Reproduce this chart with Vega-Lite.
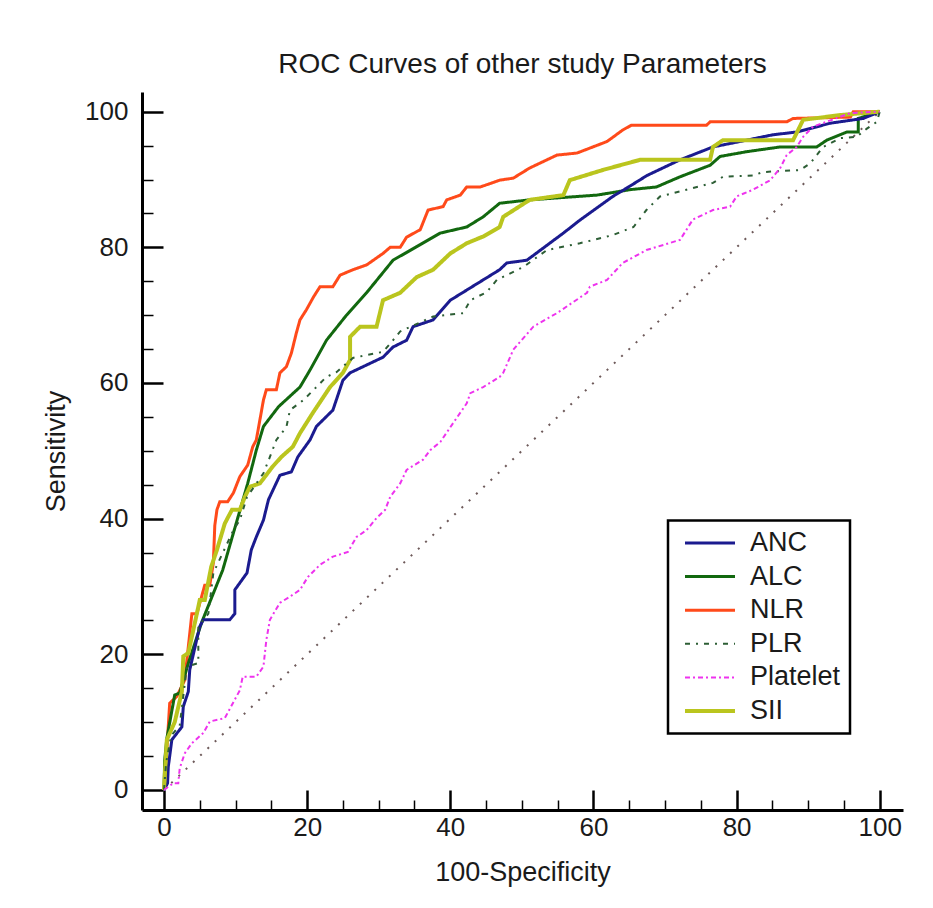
{
  "$schema": "https://vega.github.io/schema/vega-lite/v6.json",
  "width": 761,
  "height": 718,
  "autosize": "none",
  "padding": {"left": 142, "top": 92, "right": 30, "bottom": 98},
  "background": "white",
  "config": {
    "view": {"stroke": null},
    "font": "Liberation Sans",
    "legend": {"strokeWidth": 2.5}
  },
  "title": {
    "text": "ROC Curves of other study Parameters",
    "fontSize": 28,
    "fontWeight": "normal",
    "font": "Liberation Sans",
    "color": "#1a1a1a",
    "anchor": "middle",
    "baseline": "alphabetic",
    "offset": -9
  },
  "datasets": {
    "diag": [{"x": 0, "y": 0}, {"x": 100, "y": 100}],
    "roc": [
      {"s":"NLR","i":0,"x":0,"y":0},{"s":"NLR","i":1,"x":0.2,"y":2.5},{"s":"NLR","i":2,"x":0.8,"y":12.8},{"s":"NLR","i":3,"x":1.8,"y":13.8},{"s":"NLR","i":4,"x":2.9,"y":16.2},{"s":"NLR","i":5,"x":3.9,"y":26},{"s":"NLR","i":6,"x":4.6,"y":26},{"s":"NLR","i":7,"x":5.7,"y":30.2},{"s":"NLR","i":8,"x":6.4,"y":30.2},{"s":"NLR","i":9,"x":6.9,"y":33.5},{"s":"NLR","i":10,"x":7.1,"y":39},{"s":"NLR","i":11,"x":7.4,"y":41.3},{"s":"NLR","i":12,"x":7.8,"y":42.5},{"s":"NLR","i":13,"x":8.9,"y":42.5},{"s":"NLR","i":14,"x":9.7,"y":43.8},{"s":"NLR","i":15,"x":10.6,"y":46.2},{"s":"NLR","i":16,"x":11.7,"y":47.9},{"s":"NLR","i":17,"x":12.4,"y":50.6},{"s":"NLR","i":18,"x":12.9,"y":51.6},{"s":"NLR","i":19,"x":13.9,"y":57.5},{"s":"NLR","i":20,"x":14.3,"y":59},{"s":"NLR","i":21,"x":15.7,"y":59},{"s":"NLR","i":22,"x":16.2,"y":61.5},{"s":"NLR","i":23,"x":17.1,"y":62.4},{"s":"NLR","i":24,"x":17.8,"y":64.4},{"s":"NLR","i":25,"x":18.5,"y":67.4},{"s":"NLR","i":26,"x":19,"y":69.3},{"s":"NLR","i":27,"x":19.9,"y":70.8},{"s":"NLR","i":28,"x":20.9,"y":72.7},{"s":"NLR","i":29,"x":21.8,"y":74.2},{"s":"NLR","i":30,"x":23.6,"y":74.2},{"s":"NLR","i":31,"x":24.6,"y":75.9},{"s":"NLR","i":32,"x":26.4,"y":76.7},{"s":"NLR","i":33,"x":28.3,"y":77.4},{"s":"NLR","i":34,"x":30.6,"y":79.1},{"s":"NLR","i":35,"x":31.6,"y":80},{"s":"NLR","i":36,"x":33,"y":80},{"s":"NLR","i":37,"x":33.9,"y":81.5},{"s":"NLR","i":38,"x":35.8,"y":82.6},{"s":"NLR","i":39,"x":36.9,"y":85.5},{"s":"NLR","i":40,"x":39,"y":86},{"s":"NLR","i":41,"x":39.5,"y":87},{"s":"NLR","i":42,"x":41.4,"y":87.7},{"s":"NLR","i":43,"x":42.3,"y":88.9},{"s":"NLR","i":44,"x":44.2,"y":88.9},{"s":"NLR","i":45,"x":46.9,"y":89.9},{"s":"NLR","i":46,"x":48.8,"y":90.2},{"s":"NLR","i":47,"x":51.1,"y":91.7},{"s":"NLR","i":48,"x":54.9,"y":93.6},{"s":"NLR","i":49,"x":57.7,"y":93.9},{"s":"NLR","i":50,"x":61.9,"y":95.6},{"s":"NLR","i":51,"x":64.1,"y":97.3},{"s":"NLR","i":52,"x":65.3,"y":98},{"s":"NLR","i":53,"x":75.8,"y":98},{"s":"NLR","i":54,"x":76.3,"y":98.5},{"s":"NLR","i":55,"x":87,"y":98.5},{"s":"NLR","i":56,"x":87.9,"y":99},{"s":"NLR","i":57,"x":95.9,"y":99.2},{"s":"NLR","i":58,"x":96.3,"y":100},{"s":"NLR","i":59,"x":100,"y":100},
      {"s":"ALC","i":0,"x":0,"y":0},{"s":"ALC","i":1,"x":0.1,"y":4.4},{"s":"ALC","i":2,"x":0.4,"y":7.6},{"s":"ALC","i":3,"x":1.5,"y":14},{"s":"ALC","i":4,"x":2.2,"y":14.3},{"s":"ALC","i":5,"x":3.4,"y":18.7},{"s":"ALC","i":6,"x":5.3,"y":24.8},{"s":"ALC","i":7,"x":8.2,"y":32.4},{"s":"ALC","i":8,"x":11.7,"y":45.2},{"s":"ALC","i":9,"x":12.9,"y":50.1},{"s":"ALC","i":10,"x":13.9,"y":53.6},{"s":"ALC","i":11,"x":16,"y":56.5},{"s":"ALC","i":12,"x":19,"y":59.4},{"s":"ALC","i":13,"x":20.4,"y":61.9},{"s":"ALC","i":14,"x":22.7,"y":66.3},{"s":"ALC","i":15,"x":25.5,"y":70},{"s":"ALC","i":16,"x":28.3,"y":73.3},{"s":"ALC","i":17,"x":32,"y":78.1},{"s":"ALC","i":18,"x":35.3,"y":80.1},{"s":"ALC","i":19,"x":38.6,"y":82.1},{"s":"ALC","i":20,"x":42.3,"y":83},{"s":"ALC","i":21,"x":44.6,"y":84.5},{"s":"ALC","i":22,"x":46.9,"y":86.5},{"s":"ALC","i":23,"x":51.1,"y":87},{"s":"ALC","i":24,"x":60.5,"y":87.7},{"s":"ALC","i":25,"x":65.1,"y":88.5},{"s":"ALC","i":26,"x":68.8,"y":88.9},{"s":"ALC","i":27,"x":72.1,"y":90.4},{"s":"ALC","i":28,"x":76.3,"y":92.1},{"s":"ALC","i":29,"x":77.7,"y":93.4},{"s":"ALC","i":30,"x":81.4,"y":94.1},{"s":"ALC","i":31,"x":86.1,"y":94.8},{"s":"ALC","i":32,"x":91.2,"y":94.8},{"s":"ALC","i":33,"x":92.6,"y":95.8},{"s":"ALC","i":34,"x":95.4,"y":97},{"s":"ALC","i":35,"x":97,"y":97},{"s":"ALC","i":36,"x":97,"y":99},{"s":"ALC","i":37,"x":100,"y":100},
      {"s":"ANC","i":0,"x":0,"y":0},{"s":"ANC","i":1,"x":0.5,"y":1},{"s":"ANC","i":2,"x":0.6,"y":3.4},{"s":"ANC","i":3,"x":1.1,"y":7.4},{"s":"ANC","i":4,"x":2.5,"y":9.3},{"s":"ANC","i":5,"x":2.7,"y":12.3},{"s":"ANC","i":6,"x":3.4,"y":14.5},{"s":"ANC","i":7,"x":3.6,"y":17.7},{"s":"ANC","i":8,"x":5,"y":24.1},{"s":"ANC","i":9,"x":5.5,"y":25.1},{"s":"ANC","i":10,"x":9.2,"y":25.1},{"s":"ANC","i":11,"x":9.9,"y":26},{"s":"ANC","i":12,"x":9.9,"y":29.5},{"s":"ANC","i":13,"x":11.6,"y":32},{"s":"ANC","i":14,"x":12.2,"y":35.4},{"s":"ANC","i":15,"x":12.9,"y":37.3},{"s":"ANC","i":16,"x":13.9,"y":39.8},{"s":"ANC","i":17,"x":14.6,"y":42.8},{"s":"ANC","i":18,"x":16.2,"y":46.4},{"s":"ANC","i":19,"x":17.8,"y":46.9},{"s":"ANC","i":20,"x":18.7,"y":49.1},{"s":"ANC","i":21,"x":20.4,"y":51.6},{"s":"ANC","i":22,"x":21.3,"y":53.6},{"s":"ANC","i":23,"x":23.6,"y":56},{"s":"ANC","i":24,"x":25,"y":60.4},{"s":"ANC","i":25,"x":26,"y":61.5},{"s":"ANC","i":26,"x":30.6,"y":63.8},{"s":"ANC","i":27,"x":32,"y":65.3},{"s":"ANC","i":28,"x":33.9,"y":66.3},{"s":"ANC","i":29,"x":34.8,"y":68.3},{"s":"ANC","i":30,"x":37.6,"y":69.3},{"s":"ANC","i":31,"x":40,"y":72.2},{"s":"ANC","i":32,"x":42.3,"y":73.7},{"s":"ANC","i":33,"x":44.6,"y":75.2},{"s":"ANC","i":34,"x":46.9,"y":76.7},{"s":"ANC","i":35,"x":47.9,"y":77.7},{"s":"ANC","i":36,"x":50.7,"y":78.1},{"s":"ANC","i":37,"x":55.8,"y":82.1},{"s":"ANC","i":38,"x":58.1,"y":84},{"s":"ANC","i":39,"x":62.7,"y":87.5},{"s":"ANC","i":40,"x":64.6,"y":88.7},{"s":"ANC","i":41,"x":67.5,"y":90.6},{"s":"ANC","i":42,"x":72.1,"y":92.9},{"s":"ANC","i":43,"x":76.7,"y":94.8},{"s":"ANC","i":44,"x":81.4,"y":95.8},{"s":"ANC","i":45,"x":85.1,"y":96.6},{"s":"ANC","i":46,"x":88.4,"y":97},{"s":"ANC","i":47,"x":93.1,"y":98.3},{"s":"ANC","i":48,"x":97.7,"y":99},{"s":"ANC","i":49,"x":100,"y":100},
      {"s":"SII","i":0,"x":0,"y":0},{"s":"SII","i":1,"x":0.4,"y":7.4},{"s":"SII","i":2,"x":1.5,"y":10},{"s":"SII","i":3,"x":2.5,"y":14.5},{"s":"SII","i":4,"x":2.7,"y":19.7},{"s":"SII","i":5,"x":3.4,"y":20.2},{"s":"SII","i":6,"x":4,"y":23.1},{"s":"SII","i":7,"x":5,"y":28},{"s":"SII","i":8,"x":5.7,"y":28},{"s":"SII","i":9,"x":6.6,"y":32.9},{"s":"SII","i":10,"x":7.4,"y":35.4},{"s":"SII","i":11,"x":8.5,"y":39.3},{"s":"SII","i":12,"x":9.5,"y":41.3},{"s":"SII","i":13,"x":10.6,"y":41.3},{"s":"SII","i":14,"x":11.3,"y":43.2},{"s":"SII","i":15,"x":12,"y":44.7},{"s":"SII","i":16,"x":13.4,"y":45.2},{"s":"SII","i":17,"x":15.2,"y":47.7},{"s":"SII","i":18,"x":16.4,"y":49.1},{"s":"SII","i":19,"x":18,"y":50.6},{"s":"SII","i":20,"x":19,"y":52.6},{"s":"SII","i":21,"x":20.8,"y":55.6},{"s":"SII","i":22,"x":23.2,"y":59.4},{"s":"SII","i":23,"x":25,"y":61.5},{"s":"SII","i":24,"x":26,"y":63.4},{"s":"SII","i":25,"x":26,"y":66.8},{"s":"SII","i":26,"x":27.4,"y":68.3},{"s":"SII","i":27,"x":29.7,"y":68.3},{"s":"SII","i":28,"x":30.6,"y":72.2},{"s":"SII","i":29,"x":33,"y":73.3},{"s":"SII","i":30,"x":35.3,"y":75.6},{"s":"SII","i":31,"x":37.6,"y":76.7},{"s":"SII","i":32,"x":40,"y":79.1},{"s":"SII","i":33,"x":42.3,"y":80.6},{"s":"SII","i":34,"x":44.6,"y":81.6},{"s":"SII","i":35,"x":46.9,"y":83},{"s":"SII","i":36,"x":47.4,"y":84.5},{"s":"SII","i":37,"x":51.1,"y":87},{"s":"SII","i":38,"x":55.8,"y":87.7},{"s":"SII","i":39,"x":56.7,"y":89.9},{"s":"SII","i":40,"x":61.3,"y":91.4},{"s":"SII","i":41,"x":66.5,"y":92.9},{"s":"SII","i":42,"x":76.3,"y":92.9},{"s":"SII","i":43,"x":76.7,"y":94.8},{"s":"SII","i":44,"x":78.1,"y":95.8},{"s":"SII","i":45,"x":87.9,"y":95.8},{"s":"SII","i":46,"x":89.3,"y":98.8},{"s":"SII","i":47,"x":94.5,"y":99.5},{"s":"SII","i":48,"x":100,"y":100},
      {"s":"PLR","i":0,"x":0,"y":0},{"s":"PLR","i":1,"x":0.3,"y":4},{"s":"PLR","i":2,"x":1,"y":8},{"s":"PLR","i":3,"x":2.2,"y":9.5},{"s":"PLR","i":4,"x":3.2,"y":18.2},{"s":"PLR","i":5,"x":4.8,"y":18.7},{"s":"PLR","i":6,"x":4.8,"y":24.1},{"s":"PLR","i":7,"x":6.2,"y":26},{"s":"PLR","i":8,"x":6.9,"y":32},{"s":"PLR","i":9,"x":9.7,"y":38.3},{"s":"PLR","i":10,"x":10.6,"y":39.8},{"s":"PLR","i":11,"x":11.6,"y":43.2},{"s":"PLR","i":12,"x":13.9,"y":46.7},{"s":"PLR","i":13,"x":14.8,"y":49.1},{"s":"PLR","i":14,"x":15.7,"y":51.6},{"s":"PLR","i":15,"x":17.1,"y":53.5},{"s":"PLR","i":16,"x":17.6,"y":56},{"s":"PLR","i":17,"x":19.5,"y":57.5},{"s":"PLR","i":18,"x":22.7,"y":60.9},{"s":"PLR","i":19,"x":24.1,"y":61.6},{"s":"PLR","i":20,"x":26.4,"y":63.7},{"s":"PLR","i":21,"x":30.6,"y":64.6},{"s":"PLR","i":22,"x":32,"y":66.3},{"s":"PLR","i":23,"x":33,"y":67.6},{"s":"PLR","i":24,"x":37.6,"y":69.8},{"s":"PLR","i":25,"x":41.8,"y":70.3},{"s":"PLR","i":26,"x":42.8,"y":72.2},{"s":"PLR","i":27,"x":45.1,"y":73.4},{"s":"PLR","i":28,"x":46.5,"y":75.2},{"s":"PLR","i":29,"x":50.2,"y":77.1},{"s":"PLR","i":30,"x":53.5,"y":79.6},{"s":"PLR","i":31,"x":58.1,"y":80.6},{"s":"PLR","i":32,"x":62.7,"y":81.8},{"s":"PLR","i":33,"x":65.6,"y":83},{"s":"PLR","i":34,"x":67.4,"y":85.5},{"s":"PLR","i":35,"x":69.3,"y":87.5},{"s":"PLR","i":36,"x":73,"y":88.5},{"s":"PLR","i":37,"x":76.7,"y":89.5},{"s":"PLR","i":38,"x":78.1,"y":90.4},{"s":"PLR","i":39,"x":82.3,"y":90.6},{"s":"PLR","i":40,"x":83.7,"y":91.1},{"s":"PLR","i":41,"x":88.9,"y":91.4},{"s":"PLR","i":42,"x":90.3,"y":92.4},{"s":"PLR","i":43,"x":92.1,"y":94.8},{"s":"PLR","i":44,"x":94.5,"y":96.1},{"s":"PLR","i":45,"x":96.8,"y":96.3},{"s":"PLR","i":46,"x":98.2,"y":97.5},{"s":"PLR","i":47,"x":99.6,"y":98.5},{"s":"PLR","i":48,"x":100,"y":100},
      {"s":"Platelet","i":0,"x":0,"y":0},{"s":"Platelet","i":1,"x":1.3,"y":1},{"s":"Platelet","i":2,"x":2,"y":1},{"s":"Platelet","i":3,"x":2.2,"y":3.2},{"s":"Platelet","i":4,"x":2.9,"y":5.4},{"s":"Platelet","i":5,"x":3.9,"y":6.9},{"s":"Platelet","i":6,"x":5.5,"y":8.4},{"s":"Platelet","i":7,"x":6.4,"y":10.1},{"s":"Platelet","i":8,"x":8.5,"y":10.6},{"s":"Platelet","i":9,"x":10.6,"y":14.7},{"s":"Platelet","i":10,"x":11,"y":16.7},{"s":"Platelet","i":11,"x":12.9,"y":16.7},{"s":"Platelet","i":12,"x":13.9,"y":18.2},{"s":"Platelet","i":13,"x":14.1,"y":20.2},{"s":"Platelet","i":14,"x":14.3,"y":22.1},{"s":"Platelet","i":15,"x":14.8,"y":25.1},{"s":"Platelet","i":16,"x":16.2,"y":27.6},{"s":"Platelet","i":17,"x":17.6,"y":28.5},{"s":"Platelet","i":18,"x":19,"y":29.5},{"s":"Platelet","i":19,"x":20.1,"y":31.4},{"s":"Platelet","i":20,"x":21.8,"y":33.2},{"s":"Platelet","i":21,"x":23.6,"y":34.4},{"s":"Platelet","i":22,"x":25.7,"y":35.1},{"s":"Platelet","i":23,"x":26.9,"y":37.3},{"s":"Platelet","i":24,"x":28.3,"y":38.3},{"s":"Platelet","i":25,"x":29.7,"y":40.1},{"s":"Platelet","i":26,"x":30.9,"y":41.3},{"s":"Platelet","i":27,"x":31.6,"y":43.2},{"s":"Platelet","i":28,"x":33,"y":45.2},{"s":"Platelet","i":29,"x":33.9,"y":47.2},{"s":"Platelet","i":30,"x":36.2,"y":48.7},{"s":"Platelet","i":31,"x":37.2,"y":50.1},{"s":"Platelet","i":32,"x":38.6,"y":51.3},{"s":"Platelet","i":33,"x":40.4,"y":54.1},{"s":"Platelet","i":34,"x":42.3,"y":57},{"s":"Platelet","i":35,"x":42.8,"y":58.5},{"s":"Platelet","i":36,"x":44.6,"y":59.4},{"s":"Platelet","i":37,"x":46.9,"y":60.9},{"s":"Platelet","i":38,"x":47.4,"y":61.5},{"s":"Platelet","i":39,"x":48.8,"y":64.9},{"s":"Platelet","i":40,"x":51.6,"y":68.3},{"s":"Platelet","i":41,"x":54.9,"y":70.3},{"s":"Platelet","i":42,"x":59.1,"y":73.3},{"s":"Platelet","i":43,"x":59.5,"y":74.2},{"s":"Platelet","i":44,"x":61.9,"y":75.2},{"s":"Platelet","i":45,"x":64.1,"y":77.7},{"s":"Platelet","i":46,"x":67.4,"y":79.6},{"s":"Platelet","i":47,"x":72.1,"y":81.1},{"s":"Platelet","i":48,"x":73.9,"y":84.1},{"s":"Platelet","i":49,"x":76.7,"y":85.5},{"s":"Platelet","i":50,"x":79.1,"y":86},{"s":"Platelet","i":51,"x":80,"y":87.5},{"s":"Platelet","i":52,"x":82.3,"y":88.5},{"s":"Platelet","i":53,"x":84.7,"y":89.9},{"s":"Platelet","i":54,"x":86.1,"y":91.7},{"s":"Platelet","i":55,"x":87,"y":93.6},{"s":"Platelet","i":56,"x":88.4,"y":94.8},{"s":"Platelet","i":57,"x":89.3,"y":96.3},{"s":"Platelet","i":58,"x":90.7,"y":97.8},{"s":"Platelet","i":59,"x":95.9,"y":99.8},{"s":"Platelet","i":60,"x":100,"y":100}
    ]
  },
  "encoding": {
    "x": {
      "field": "x", "type": "quantitative",
      "scale": {"domain": [-3.07, 103.25], "nice": false, "zero": false},
      "axis": {
        "title": "100-Specificity",
        "values": [0,5,10,15,20,25,30,35,40,45,50,55,60,65,70,75,80,85,90,95,100],
        "labelExpr": "datum.value % 20 === 0 ? datum.label : ''",
        "labelOverlap": false, "labelFlush": false,
        "grid": false,
        "domainColor": "black", "domainWidth": 3,
        "tickColor": "black",
        "tickSize": {"condition": {"test": "datum.value % 20 === 0", "value": -20}, "value": -10},
        "tickWidth": {"condition": {"test": "datum.value % 20 === 0", "value": 2.5}, "value": 1.5},
        "labelFont": "Liberation Sans", "labelFontSize": 26, "labelColor": "#1a1a1a",
        "labelPadding": 24,
        "titleFont": "Liberation Sans", "titleFontSize": 27, "titleFontWeight": "normal", "titleColor": "#1a1a1a",
        "titlePadding": 9
      }
    },
    "y": {
      "field": "y", "type": "quantitative",
      "scale": {"domain": [-2.95, 102.9], "nice": false, "zero": false},
      "axis": {
        "title": "Sensitivity",
        "values": [0,5,10,15,20,25,30,35,40,45,50,55,60,65,70,75,80,85,90,95,100],
        "labelExpr": "datum.value % 20 === 0 ? datum.label : ''",
        "labelOverlap": false, "labelFlush": false,
        "grid": false,
        "domainColor": "black", "domainWidth": 3,
        "tickColor": "black",
        "tickSize": {"condition": {"test": "datum.value % 20 === 0", "value": -21}, "value": -11},
        "tickWidth": {"condition": {"test": "datum.value % 20 === 0", "value": 2.5}, "value": 1.5},
        "labelFont": "Liberation Sans", "labelFontSize": 26, "labelColor": "#1a1a1a",
        "labelPadding": 35,
        "titleFont": "Liberation Sans", "titleFontSize": 27, "titleFontWeight": "normal", "titleColor": "#1a1a1a",
        "titlePadding": 14
      }
    }
  },
  "layer": [
    {
      "data": {"name": "diag"},
      "mark": {"type": "line", "color": "#6e5a5a", "strokeWidth": 2, "strokeDash": [2, 8]},
      "encoding": {}
    },
    {
      "data": {"name": "roc"},
      "mark": {"type": "line", "strokeCap": "butt", "strokeJoin": "miter"},
      "encoding": {
        "detail": {"field": "s"},
        "order": {"field": "i", "type": "quantitative"},
        "color": {
          "field": "s", "type": "nominal",
          "scale": {"domain": ["ANC","ALC","NLR","PLR","Platelet","SII"], "range": ["#1b1b8f","#12680f","#ff4a1a","#2d5e35","#ee33ee","#bac51e"]},
          "legend": {
            "title": null, "orient": "none", "legendX": 526, "legendY": 428.5,
            "labelFont": "Liberation Sans", "labelFontSize": 27, "labelColor": "#1a1a1a",
            "symbolType": "stroke", "symbolSize": 2500, "clipHeight": 27,
            "rowPadding": 5.6, "padding": 9, "symbolOffset": 6, "labelOffset": 13,
            "strokeColor": "black", "fillColor": "white"
          }
        },
        "strokeDash": {
          "field": "s", "type": "nominal",
          "scale": {"domain": ["ANC","ALC","NLR","PLR","Platelet","SII"], "range": [[1,0],[1,0],[1,0],[5,6,2,6],[5,3,2,3],[1,0]]},
          "legend": null
        },
        "strokeWidth": {
          "field": "s", "type": "nominal",
          "scale": {"type": "ordinal", "domain": ["ANC","ALC","NLR","PLR","Platelet","SII"], "range": [3,3,3,2,2,4]},
          "legend": null
        }
      }
    }
  ]
}
